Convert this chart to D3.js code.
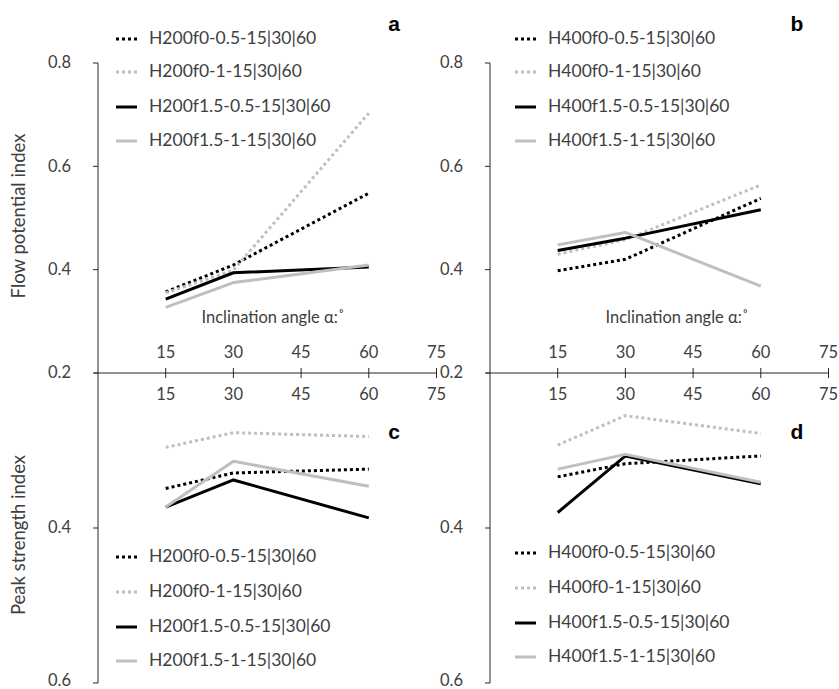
<!DOCTYPE html>
<html>
<head>
<meta charset="utf-8">
<script src="https://cdn.jsdelivr.net/npm/d3@7/dist/d3.min.js"></script>
<style>
  body { margin: 0; background: #fff; }
  text { font-family: Lato, "Open Sans", sans-serif; fill: #404040; }
  .panel-letter { font-family: "Liberation Sans", Arial, sans-serif; font-weight: bold; fill: #000; }
</style>
</head>
<body>
<div id="chart"></div>
<script>
// inclination angles (x) for every series
const angles = [15, 30, 60];
const xTicks = [15, 30, 45, 60, 75];

// series order: f0-0.5, f0-1, f1.5-0.5, f1.5-1
const seriesKeys = ["f0-0.5", "f0-1", "f1.5-0.5", "f1.5-1"];

// flow potential index (top panels)
const flowH200 = [
  [0.357, 0.409, 0.548],
  [0.355, 0.399, 0.703],
  [0.343, 0.394, 0.405],
  [0.327, 0.375, 0.409]
];
const flowH400 = [
  [0.398, 0.420, 0.538],
  [0.430, 0.458, 0.564],
  [0.437, 0.461, 0.516],
  [0.448, 0.472, 0.368]
];

// peak strength index (bottom panels, axis runs downward)
const peakH200 = [
  [0.349, 0.329, 0.324],
  [0.296, 0.277, 0.282],
  [0.373, 0.338, 0.387],
  [0.373, 0.314, 0.346]
];
const peakH400 = [
  [0.334, 0.317, 0.307],
  [0.293, 0.255, 0.278],
  [0.380, 0.307, 0.343],
  [0.324, 0.305, 0.341]
];

const topTicks = [0.2, 0.4, 0.6, 0.8];
const bottomTicks = [0.4, 0.6];

// line style per series
const styles = [
  { color: "#000000", dash: "3,3" },
  { color: "#bfbfbf", dash: "3,3" },
  { color: "#000000", dash: null },
  { color: "#bfbfbf", dash: null }
];

const width = 839, height = 689;
const svg = d3.select("#chart").append("svg")
  .attr("width", width)
  .attr("height", height);

const axisY = 373; // shared x axis (value 0.2)

// top (flow) and bottom (peak) value scales
const yTop = d3.scaleLinear().domain([0.2, 0.8]).range([axisY, 63]);
const yBottom = d3.scaleLinear().domain([0.2, 0.6]).range([axisY, 683]);

function drawColumn(cfg) {
  const x = d3.scaleLinear().domain([0, 75]).range([cfg.x0, cfg.x0 + 338.5]);
  const g = svg.append("g");

  // vertical axis (spans both panels)
  g.append("line")
    .attr("x1", cfg.x0).attr("x2", cfg.x0)
    .attr("y1", yTop(0.8)).attr("y2", yBottom(0.6))
    .attr("stroke", "#262626").attr("stroke-width", 1);

  // y ticks + labels
  const yTicks = topTicks.map((t) => [t, yTop(t)])
    .concat(bottomTicks.map((t) => [t, yBottom(t)]));
  yTicks.forEach(([t, py]) => {
    g.append("line")
      .attr("x1", cfg.x0 - 5).attr("x2", cfg.x0)
      .attr("y1", py).attr("y2", py)
      .attr("stroke", "#262626");
    g.append("text")
      .attr("x", cfg.x0 - 27).attr("y", Math.min(py + 1, 682))
      .attr("text-anchor", "end")
      .attr("dominant-baseline", "middle")
      .attr("font-size", 16.5)
      .text(d3.format(".1f")(t));
  });

  // horizontal axis with crossing ticks
  g.append("line")
    .attr("x1", cfg.x0 - 4).attr("x2", x(75))
    .attr("y1", axisY).attr("y2", axisY)
    .attr("stroke", "#262626");
  xTicks.forEach((t) => {
    g.append("line")
      .attr("x1", x(t)).attr("x2", x(t))
      .attr("y1", axisY - 5).attr("y2", axisY + 5)
      .attr("stroke", "#262626");
    // labels above (top panel) and below (bottom panel)
    g.append("text")
      .attr("x", x(t)).attr("y", axisY - 15)
      .attr("text-anchor", "middle").attr("font-size", 16.5)
      .text(t);
    g.append("text")
      .attr("x", x(t)).attr("y", axisY + 27)
      .attr("text-anchor", "middle").attr("font-size", 16.5)
      .text(t);
  });

  g.append("text")
    .attr("x", cfg.titleX).attr("y", 323)
    .attr("text-anchor", "middle").attr("font-size", 16.5)
    .text("Inclination angle \u03b1:\u02da");

  const lineTop = d3.line().x((d, i) => x(angles[i])).y((d) => yTop(d));
  const lineBottom = d3.line().x((d, i) => x(angles[i])).y((d) => yBottom(d));

  function series(data, lineGen) {
    data.forEach((vals, k) => {
      g.append("path")
        .datum(vals)
        .attr("d", lineGen)
        .attr("fill", "none")
        .attr("stroke", styles[k].color)
        .attr("stroke-width", 3)
        .attr("stroke-dasharray", styles[k].dash)
        .attr("stroke-linejoin", "round");
    });
  }
  series(cfg.top, lineTop);
  series(cfg.bottom, lineBottom);

  // legends
  function legend(rows, prefix) {
    rows.forEach((ry, k) => {
      g.append("line")
        .attr("x1", cfg.legX).attr("x2", cfg.legX + 21)
        .attr("y1", ry).attr("y2", ry)
        .attr("stroke", styles[k].color)
        .attr("stroke-width", 3)
        .attr("stroke-dasharray", styles[k].dash);
      g.append("text")
        .attr("x", cfg.legX + 33).attr("y", ry + 1)
        .attr("dominant-baseline", "middle")
        .attr("font-size", 17.5)
        .text(prefix + seriesKeys[k] + "-15|30|60");
    });
  }
  legend(cfg.legTopRows, cfg.prefix);
  legend(cfg.legBottomRows, cfg.prefix);

  // panel letters
  g.append("text").attr("class", "panel-letter")
    .attr("x", cfg.letterX).attr("y", 31).attr("font-size", 21)
    .attr("text-anchor", "middle").text(cfg.letters[0]);
  g.append("text").attr("class", "panel-letter")
    .attr("x", cfg.letterX).attr("y", 439).attr("font-size", 21)
    .attr("text-anchor", "middle").text(cfg.letters[1]);
}

drawColumn({
  x0: 98, prefix: "H200", top: flowH200, bottom: peakH200,
  legX: 116, legTopRows: [39, 72, 107, 141], legBottomRows: [557, 592, 627, 661],
  titleX: 273, letterX: 394, letters: ["a", "c"]
});
drawColumn({
  x0: 490, prefix: "H400", top: flowH400, bottom: peakH400,
  legX: 515, legTopRows: [39, 72, 107, 141], legBottomRows: [553, 588, 623, 657],
  titleX: 677, letterX: 797, letters: ["b", "d"]
});

// y axis titles
svg.append("text")
  .attr("transform", "translate(25,216) rotate(-90)")
  .attr("text-anchor", "middle").attr("font-size", 18.5)
  .text("Flow potential index");
svg.append("text")
  .attr("transform", "translate(25,535) rotate(-90)")
  .attr("text-anchor", "middle").attr("font-size", 18.5)
  .text("Peak strength index");
</script>
</body>
</html>
